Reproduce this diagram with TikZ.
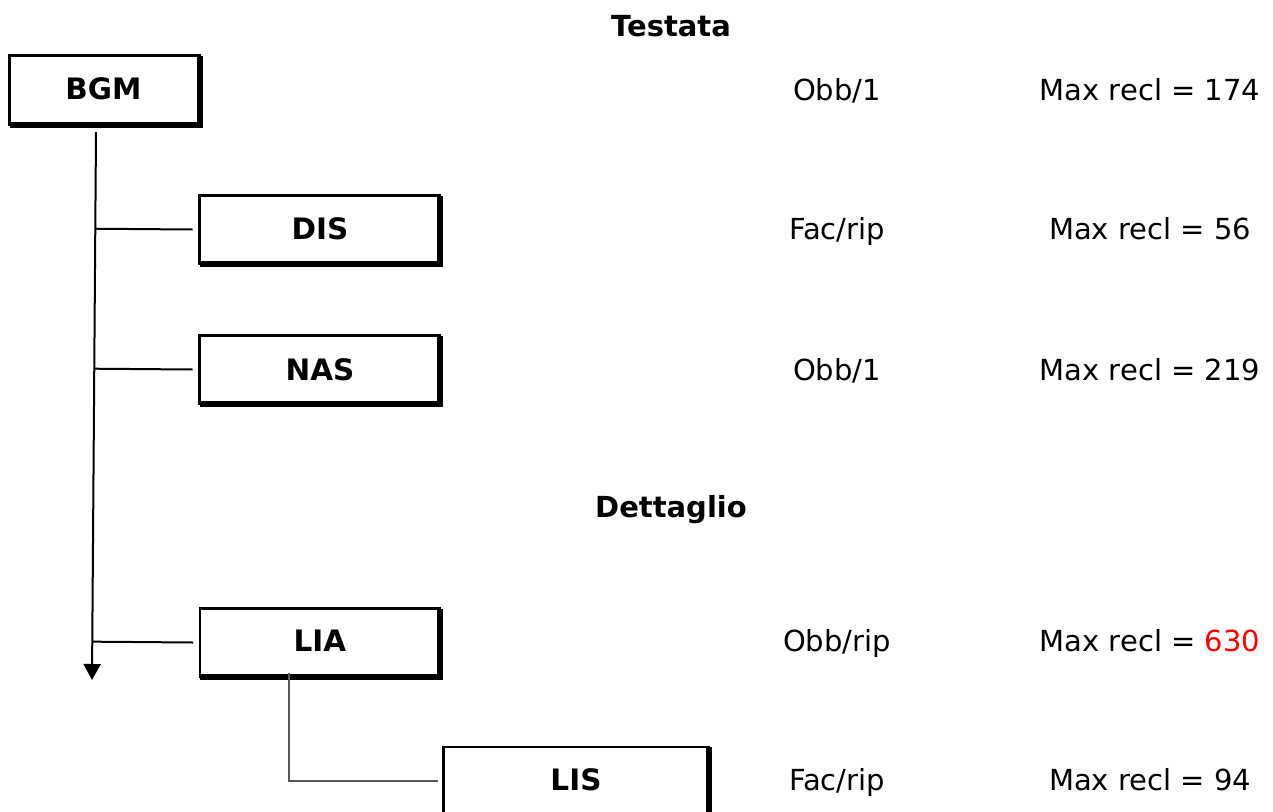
\documentclass[tikz,border=0pt]{standalone}
\usepackage{fontspec}
\setmainfont{DejaVu Sans}
\usetikzlibrary{arrows.meta,calc}
\begin{document}
\begin{tikzpicture}[x=1pt,y=-1pt,
  txt/.style={font=\fontsize{29}{32}\selectfont, inner sep=0pt, anchor=base},
  ttl/.style={font=\fontsize{29}{34}\selectfont\bfseries, inner sep=0pt, anchor=base},
  box/.style={draw, line width=2.5pt, rectangle, inner sep=0pt, outer sep=0pt,
    minimum height=68pt},
  lbl/.style={font=\fontsize{29.5}{34}\selectfont\bfseries, inner sep=0pt, anchor=base},
  thickedge/.style={line width=6pt, line join=miter},
  link/.style={line width=2pt},
  sublink/.style={line width=2.2pt, draw=black!65}
]
\useasboundingbox (0,0) rectangle (1273,811);
% titles
\node[ttl] (testata) at (671,36) {Testata};
\node[ttl] (dettaglio) at (671,517) {Dettaglio};
% boxes
\node[box, minimum width=190pt, minimum height=69pt] (bgm) at (104.5,90) {};
\node[box, minimum width=240pt] (dis) at (319.5,229.5) {};
\node[box, minimum width=240pt] (nas) at (319.5,369.5) {};
\node[box, minimum width=240pt] (lia) at (320,642.5) {};
\node[box, minimum width=265pt] (lis) at (576,781) {};
\foreach \n in {bgm,dis,nas,lia,lis}
  \draw[thickedge] (\n.north east) -- (\n.south east) -- (\n.south west);
\node[lbl] (tbgm) at (103.5,99.5) {BGM};
\node[lbl] (tdis) at (320,239) {DIS};
\node[lbl] (tnas) at (320,380) {NAS};
\node[lbl] (tlia) at (320,651) {LIA};
\node[lbl] (tlis) at (576,790) {LIS};
% trunk
\coordinate (top) at (96,132);
\coordinate (bot) at (92,680);
\draw[link, -{Triangle[width=17pt,length=16pt]}] (top) -- (bot);
\foreach \n in {dis,nas,lia}
  \draw[link] ($(top)!(\n.west)!(bot)$) -- ([xshift=-7pt]\n.west);
\draw[sublink] ([xshift=-31pt,yshift=4pt]lia.south) |- ([xshift=-6pt]lis.west);
% right columns
\node[txt] (o1) at (837,100) {Obb/1};
\node[txt] (m1) at (1150,100) {Max recl = 174};
\node[txt] (o2) at (837,239) {Fac/rip};
\node[txt] (m2) at (1150,239) {Max recl = 56};
\node[txt] (o3) at (837,380) {Obb/1};
\node[txt] (m3) at (1150,380) {Max recl = 219};
\node[txt] (o4) at (837,651) {Obb/rip};
\node[txt] (m4) at (1150,651) {Max recl = \textcolor{red}{630}};
\node[txt] (o5) at (837,790) {Fac/rip};
\node[txt] (m5) at (1150,790) {Max recl = 94};
\end{tikzpicture}
\end{document}
